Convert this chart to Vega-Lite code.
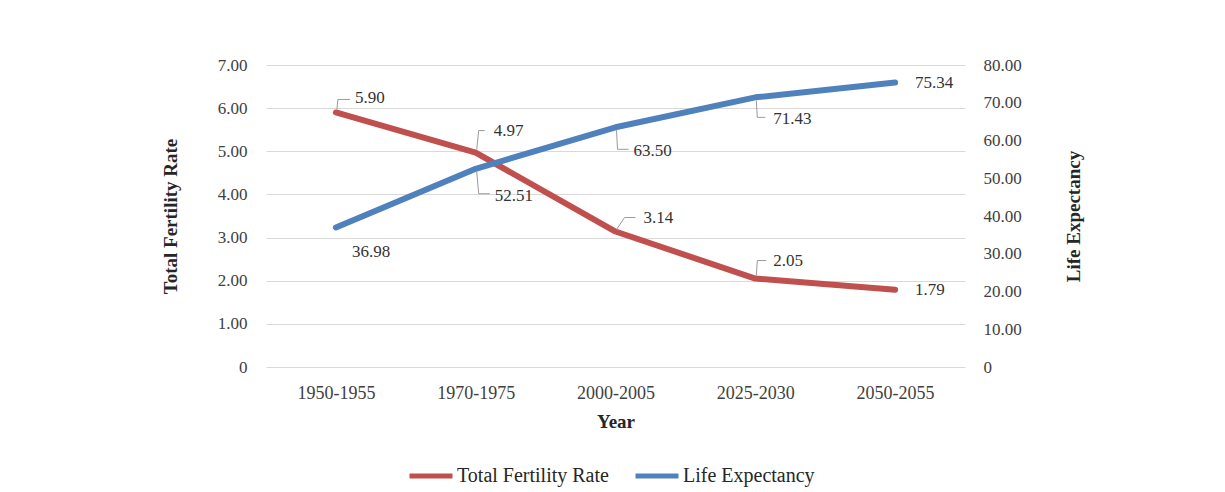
{
  "$schema": "https://vega.github.io/schema/vega-lite/v6.json",
  "width": 699,
  "height": 302,
  "autosize": "none",
  "padding": {"left": 266, "top": 65, "right": 260, "bottom": 125},
  "background": "white",
  "config": {"view": {"stroke": null}, "font": "Liberation Serif"},
  "data": {"values": [
    {"period": "1950-1955", "tfr": 5.90, "le": 36.98},
    {"period": "1970-1975", "tfr": 4.97, "le": 52.51},
    {"period": "2000-2005", "tfr": 3.14, "le": 63.50},
    {"period": "2025-2030", "tfr": 2.05, "le": 71.43},
    {"period": "2050-2055", "tfr": 1.79, "le": 75.34}
  ]},
  "encoding": {
    "x": {"field": "period", "type": "ordinal", "sort": null,
      "scale": {"type": "point", "padding": 0.5},
      "axis": {"title": "Year", "labelAngle": 0, "domain": false, "ticks": false, "grid": false,
        "labelPadding": 17, "labelFontSize": 18, "labelColor": "#404040", "labelFont": "Liberation Serif",
        "titleFontSize": 19, "titleFontWeight": "bold", "titleColor": "#262626", "titlePadding": 10, "titleFont": "Liberation Serif"}}
  },
  "layer": [
    {
      "encoding": {
        "y": {"field": "tfr", "type": "quantitative", "scale": {"domain": [0, 7], "nice": false},
          "axis": {"orient": "left", "title": "Total Fertility Rate", "values": [0, 1, 2, 3, 4, 5, 6, 7],
            "labelExpr": "datum.value == 0 ? '0' : format(datum.value, '.2f')",
            "grid": true, "gridColor": "#d9d9d9", "gridWidth": 1, "domain": false, "ticks": false,
            "labelPadding": 19, "labelFontSize": 17, "labelColor": "#404040", "labelFont": "Liberation Serif",
            "titleFontSize": 19, "titleFontWeight": "bold", "titleColor": "#262626", "titlePadding": 37, "titleFont": "Liberation Serif"}}
      },
      "layer": [
        {"mark": {"type": "line", "strokeWidth": 6, "strokeCap": "round", "strokeJoin": "round"},
          "encoding": {"color": {"datum": "Total Fertility Rate", "type": "nominal",
            "scale": {"domain": ["Total Fertility Rate", "Life Expectancy"], "range": ["#c0504d", "#4f81bd"]},
            "legend": {"title": null, "orient": "none", "legendX": 141, "legendY": 387, "direction": "horizontal",
              "symbolType": "stroke", "symbolSize": 1849, "symbolStrokeWidth": 5, "labelFontSize": 20,
              "labelFont": "Liberation Serif", "labelColor": "#262626", "columnPadding": 16, "labelOffset": 2, "padding": 0}}}},
        {"transform": [{"filter": "datum.period === '1950-1955'"}],
          "mark": {"type": "text", "align": "left", "baseline": "middle", "dx": 19, "dy": -14, "fontSize": 17, "color": "#333333"},
          "encoding": {"text": {"field": "tfr", "type": "quantitative", "format": ".2f"}}},
        {"transform": [{"filter": "datum.period === '1970-1975'"}],
          "mark": {"type": "text", "align": "left", "baseline": "middle", "dx": 18, "dy": -22, "fontSize": 17, "color": "#333333"},
          "encoding": {"text": {"field": "tfr", "type": "quantitative", "format": ".2f"}}},
        {"transform": [{"filter": "datum.period === '2000-2005'"}],
          "mark": {"type": "text", "align": "left", "baseline": "middle", "dx": 28, "dy": -14, "fontSize": 17, "color": "#333333"},
          "encoding": {"text": {"field": "tfr", "type": "quantitative", "format": ".2f"}}},
        {"transform": [{"filter": "datum.period === '2025-2030'"}],
          "mark": {"type": "text", "align": "left", "baseline": "middle", "dx": 18, "dy": -18, "fontSize": 17, "color": "#333333"},
          "encoding": {"text": {"field": "tfr", "type": "quantitative", "format": ".2f"}}},
        {"transform": [{"filter": "datum.period === '2050-2055'"}],
          "mark": {"type": "text", "align": "left", "baseline": "middle", "dx": 20, "dy": 0, "fontSize": 17, "color": "#333333"},
          "encoding": {"text": {"field": "tfr", "type": "quantitative", "format": ".2f"}}},
        {"transform": [{"filter": "datum.period === '1950-1955'"}],
          "mark": {"type": "rule", "color": "#9a9a9a", "strokeWidth": 1, "xOffset": 1, "yOffset": -3, "x2Offset": 2, "y2Offset": -13},
          "encoding": {"x2": {"field": "period"}, "y2": {"field": "tfr"}}},
        {"transform": [{"filter": "datum.period === '1950-1955'"}],
          "mark": {"type": "rule", "color": "#9a9a9a", "strokeWidth": 1, "xOffset": 2, "yOffset": -13, "x2Offset": 14, "y2Offset": -13},
          "encoding": {"x2": {"field": "period"}, "y2": {"field": "tfr"}}},
        {"transform": [{"filter": "datum.period === '1970-1975'"}],
          "mark": {"type": "rule", "color": "#9a9a9a", "strokeWidth": 1, "xOffset": 1, "yOffset": -3, "x2Offset": 3, "y2Offset": -22},
          "encoding": {"x2": {"field": "period"}, "y2": {"field": "tfr"}}},
        {"transform": [{"filter": "datum.period === '1970-1975'"}],
          "mark": {"type": "rule", "color": "#9a9a9a", "strokeWidth": 1, "xOffset": 3, "yOffset": -22, "x2Offset": 9, "y2Offset": -22},
          "encoding": {"x2": {"field": "period"}, "y2": {"field": "tfr"}}},
        {"transform": [{"filter": "datum.period === '2000-2005'"}],
          "mark": {"type": "rule", "color": "#9a9a9a", "strokeWidth": 1, "xOffset": 1, "yOffset": -2, "x2Offset": 9, "y2Offset": -14},
          "encoding": {"x2": {"field": "period"}, "y2": {"field": "tfr"}}},
        {"transform": [{"filter": "datum.period === '2000-2005'"}],
          "mark": {"type": "rule", "color": "#9a9a9a", "strokeWidth": 1, "xOffset": 9, "yOffset": -14, "x2Offset": 20, "y2Offset": -14},
          "encoding": {"x2": {"field": "period"}, "y2": {"field": "tfr"}}},
        {"transform": [{"filter": "datum.period === '2025-2030'"}],
          "mark": {"type": "rule", "color": "#9a9a9a", "strokeWidth": 1, "xOffset": 1, "yOffset": -3, "x2Offset": 2, "y2Offset": -18},
          "encoding": {"x2": {"field": "period"}, "y2": {"field": "tfr"}}},
        {"transform": [{"filter": "datum.period === '2025-2030'"}],
          "mark": {"type": "rule", "color": "#9a9a9a", "strokeWidth": 1, "xOffset": 2, "yOffset": -18, "x2Offset": 11, "y2Offset": -18},
          "encoding": {"x2": {"field": "period"}, "y2": {"field": "tfr"}}}
      ]
    },
    {
      "encoding": {
        "y": {"field": "le", "type": "quantitative", "scale": {"domain": [0, 80], "nice": false},
          "axis": {"orient": "right", "title": "Life Expectancy", "values": [0, 10, 20, 30, 40, 50, 60, 70, 80],
            "labelExpr": "datum.value == 0 ? '0' : format(datum.value, '.2f')",
            "grid": false, "domain": false, "ticks": false, "titleAngle": 270,
            "labelPadding": 18, "labelFontSize": 17, "labelColor": "#404040", "labelFont": "Liberation Serif",
            "titleFontSize": 19, "titleFontWeight": "bold", "titleColor": "#262626", "titlePadding": 62, "titleFont": "Liberation Serif"}}
      },
      "layer": [
        {"mark": {"type": "line", "strokeWidth": 6, "strokeCap": "round", "strokeJoin": "round"},
          "encoding": {"color": {"datum": "Life Expectancy", "type": "nominal"}}},
        {"transform": [{"filter": "datum.period === '1950-1955'"}],
          "mark": {"type": "text", "align": "left", "baseline": "middle", "dx": 16, "dy": 25, "fontSize": 17, "color": "#333333"},
          "encoding": {"text": {"field": "le", "type": "quantitative", "format": ".2f"}}},
        {"transform": [{"filter": "datum.period === '1970-1975'"}],
          "mark": {"type": "text", "align": "left", "baseline": "middle", "dx": 19, "dy": 27, "fontSize": 17, "color": "#333333"},
          "encoding": {"text": {"field": "le", "type": "quantitative", "format": ".2f"}}},
        {"transform": [{"filter": "datum.period === '2000-2005'"}],
          "mark": {"type": "text", "align": "left", "baseline": "middle", "dx": 18, "dy": 24, "fontSize": 17, "color": "#333333"},
          "encoding": {"text": {"field": "le", "type": "quantitative", "format": ".2f"}}},
        {"transform": [{"filter": "datum.period === '2025-2030'"}],
          "mark": {"type": "text", "align": "left", "baseline": "middle", "dx": 18, "dy": 22, "fontSize": 17, "color": "#333333"},
          "encoding": {"text": {"field": "le", "type": "quantitative", "format": ".2f"}}},
        {"transform": [{"filter": "datum.period === '2050-2055'"}],
          "mark": {"type": "text", "align": "left", "baseline": "middle", "dx": 20, "dy": 0, "fontSize": 17, "color": "#333333"},
          "encoding": {"text": {"field": "le", "type": "quantitative", "format": ".2f"}}},
        {"transform": [{"filter": "datum.period === '1970-1975'"}],
          "mark": {"type": "rule", "color": "#9a9a9a", "strokeWidth": 1, "xOffset": 1, "yOffset": 3, "x2Offset": 3, "y2Offset": 25},
          "encoding": {"x2": {"field": "period"}, "y2": {"field": "le"}}},
        {"transform": [{"filter": "datum.period === '1970-1975'"}],
          "mark": {"type": "rule", "color": "#9a9a9a", "strokeWidth": 1, "xOffset": 3, "yOffset": 25, "x2Offset": 14, "y2Offset": 25},
          "encoding": {"x2": {"field": "period"}, "y2": {"field": "le"}}},
        {"transform": [{"filter": "datum.period === '2000-2005'"}],
          "mark": {"type": "rule", "color": "#9a9a9a", "strokeWidth": 1, "xOffset": 1, "yOffset": 3, "x2Offset": 2, "y2Offset": 22},
          "encoding": {"x2": {"field": "period"}, "y2": {"field": "le"}}},
        {"transform": [{"filter": "datum.period === '2000-2005'"}],
          "mark": {"type": "rule", "color": "#9a9a9a", "strokeWidth": 1, "xOffset": 2, "yOffset": 22, "x2Offset": 13, "y2Offset": 22},
          "encoding": {"x2": {"field": "period"}, "y2": {"field": "le"}}},
        {"transform": [{"filter": "datum.period === '2025-2030'"}],
          "mark": {"type": "rule", "color": "#9a9a9a", "strokeWidth": 1, "xOffset": 1, "yOffset": 3, "x2Offset": 2, "y2Offset": 20},
          "encoding": {"x2": {"field": "period"}, "y2": {"field": "le"}}},
        {"transform": [{"filter": "datum.period === '2025-2030'"}],
          "mark": {"type": "rule", "color": "#9a9a9a", "strokeWidth": 1, "xOffset": 2, "yOffset": 20, "x2Offset": 10, "y2Offset": 20},
          "encoding": {"x2": {"field": "period"}, "y2": {"field": "le"}}}
      ]
    }
  ],
  "resolve": {"scale": {"y": "independent"}}
}
